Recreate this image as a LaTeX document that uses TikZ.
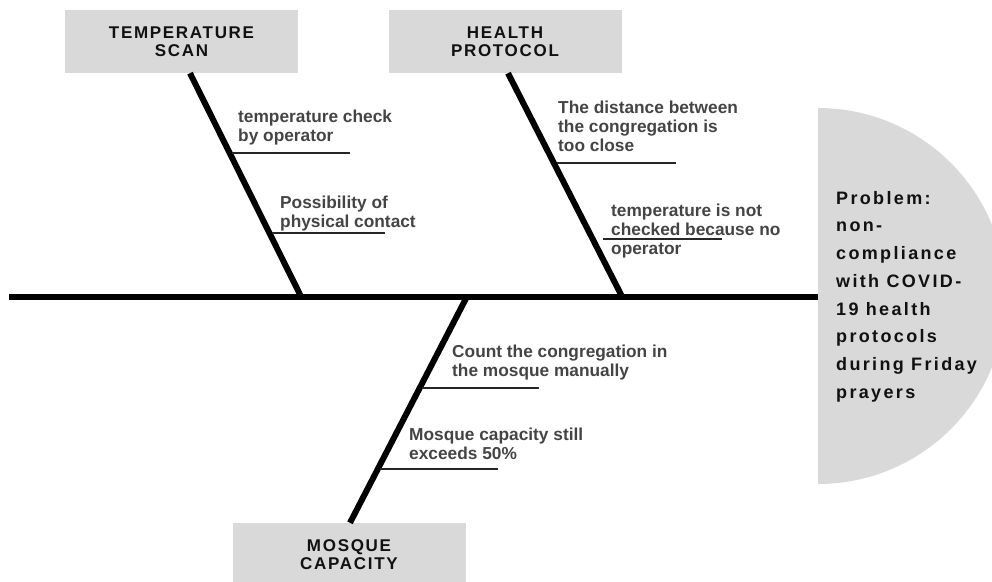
\documentclass[tikz,border=0pt]{standalone}
\usepackage{fontspec}
\setmainfont{Liberation Sans}
\newfontfamily\headfont[LetterSpace=10]{Liberation Sans}
\newfontfamily\probfont[LetterSpace=13]{Liberation Sans}
\usepackage{tikz}
\usetikzlibrary{positioning}
\definecolor{boxgray}{RGB}{217,217,217}
\definecolor{labelgray}{RGB}{68,68,68}
\definecolor{headblack}{RGB}{17,17,17}

\begin{document}
\begin{tikzpicture}[
        x=1pt, y=-1pt,
        catbox/.style={rectangle, fill=boxgray, minimum width=233pt, minimum height=63pt,
                       align=center, text=headblack, inner sep=0pt,
                       font=\headfont\bfseries\fontsize{17}{18.3}\selectfont},
        bone/.style={line width=6pt, black},
        spine/.style={line width=6pt, black},
        twig/.style={line width=1.8pt, black!85},
        cause/.style={anchor=north west, align=left, inner sep=0pt, text=labelgray,
                      font=\bfseries\fontsize{17.3}{18.7}\selectfont}
    ]
        \clip (0,0) rectangle (992,581);
        % head of the fish
        \fill [boxgray] (818,108) arc[start angle=-90, end angle=90, radius=188] -- cycle;
        \node [anchor=north west, align=left, inner sep=0pt, text=headblack,
               font=\probfont\bfseries\fontsize{18}{27.7}\selectfont] (problem) at (836,191)
              {Problem:\\non-\\compliance\\with COVID-\\19 health\\protocols\\during Friday\\prayers};
        \coordinate (tail) at (9,296.5);
        \coordinate (head) at (818,296.5);
        \draw [spine] (tail) -- (head);

        % category boxes
        \node [catbox] (tempscan) at (181.5,41.5) {TEMPERATURE\\SCAN};
        \node [catbox] (health)   at (505,41.5)   {HEALTH\\PROTOCOL};
        \node [catbox] (capacity) at (349,554.5)  {MOSQUE\\CAPACITY};

        % bones
        \coordinate (tempend)   at (301,296.5);
        \coordinate (healthend) at (622,296.5);
        \coordinate (capend)    at (467,296.5);
        \draw [bone] (tempscan.south -| 190,0) -- (tempend);
        \draw [bone] (health.south -| 508,0)   -- (healthend);
        \draw [bone] (capacity.north -| 350,0) -- (capend);

        % temperature scan causes
        \node [cause] (tempcheck) at (238,110) {temperature check\\by operator};
        \coordinate (tc1) at (232,153);
        \coordinate (tc2) at (350,153);
        \draw [twig] (tc1) -- (tc2);
        \node [cause] (contact) at (280,196) {Possibility of\\physical contact};
        \coordinate (pc1) at (272,233);
        \coordinate (pc2) at (385,233);
        \draw [twig] (pc1) -- (pc2);

        % health protocol causes
        \node [cause] (distance) at (558,101) {The distance between\\the congregation is\\too close};
        \coordinate (dc1) at (557,163);
        \coordinate (dc2) at (676,163);
        \draw [twig] (dc1) -- (dc2);
        \node [cause] (nocheck) at (611,204) {temperature is not\\checked because no\\operator};
        \coordinate (nc1) at (603,239);
        \coordinate (nc2) at (722,239);
        \draw [twig] (nc1) -- (nc2);

        % mosque capacity causes
        \node [cause] (count) at (452,345) {Count the congregation in\\the mosque manually};
        \coordinate (cc1) at (422,388);
        \coordinate (cc2) at (539,388);
        \draw [twig] (cc1) -- (cc2);
        \node [cause] (exceeds) at (409,428) {Mosque capacity still\\exceeds 50\%};
        \coordinate (ec1) at (380,469);
        \coordinate (ec2) at (498,469);
        \draw [twig] (ec1) -- (ec2);
    \end{tikzpicture}
\end{document}
